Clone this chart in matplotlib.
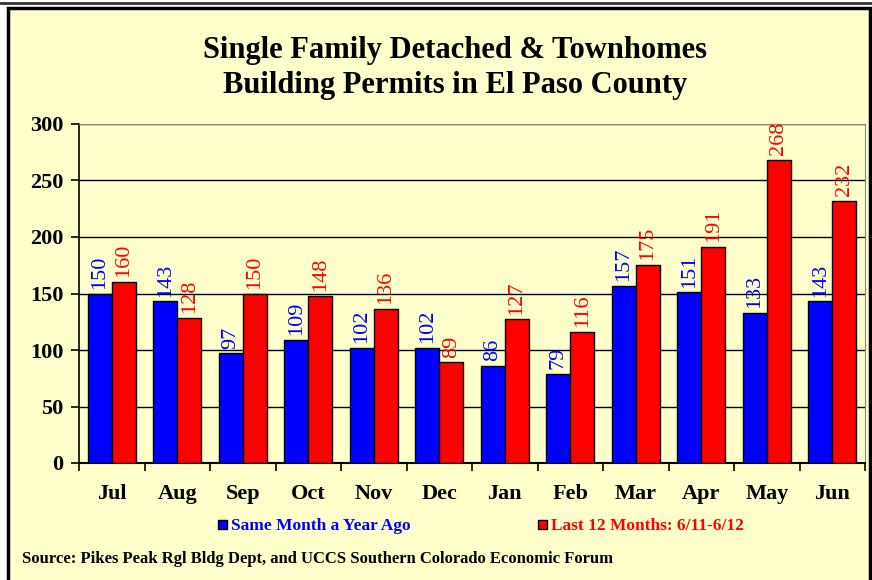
import numpy as np
import matplotlib
matplotlib.use('Agg')
import matplotlib.pyplot as plt
from matplotlib.patches import Rectangle
from matplotlib.lines import Line2D

months = ['Jul', 'Aug', 'Sep', 'Oct', 'Nov', 'Dec', 'Jan', 'Feb', 'Mar', 'Apr', 'May', 'Jun']
year_ago = [150, 143, 97, 109, 102, 102, 86, 79, 157, 151, 133, 143]
last_12 = [160, 128, 150, 148, 136, 89, 127, 116, 175, 191, 268, 232]
yticks = [0, 50, 100, 150, 200, 250, 300]

BG = '#FFFFCC'
plt.rcParams['font.family'] = 'Liberation Serif'

fig = plt.figure(figsize=(8.72, 5.8), dpi=100)
fig.patch.set_facecolor('white')

# outer frame
fig.add_artist(Rectangle((8 / 872, -0.01), 862 / 872, 1 - 8 / 580 + 0.01, transform=fig.transFigure,
                         facecolor=BG, edgecolor='black', lw=2.5, zorder=0))
fig.add_artist(Line2D([0, 1], [1 - 3 / 580, 1 - 3 / 580], transform=fig.transFigure,
                      color='#333333', lw=2))

ax = fig.add_axes([79 / 872, 1 - 463 / 580, 786 / 872, 339 / 580])
ax.set_facecolor(BG)

x = np.arange(len(months))
w = 0.37
ax.bar(x - w / 2, year_ago, w, color='#0000FF', edgecolor='black', lw=1, zorder=3)
ax.bar(x + w / 2, last_12, w, color='#FF0000', edgecolor='black', lw=1, zorder=3)

for xi, v in zip(x, year_ago):
    ax.annotate(str(v), (xi - w / 2, v), xytext=(0, 3.5), textcoords='offset points',
                rotation=90, ha='center', va='bottom', color='#0000FF', fontsize=16)
for xi, v in zip(x, last_12):
    ax.annotate(str(v), (xi + w / 2, v), xytext=(0, 3.5), textcoords='offset points',
                rotation=90, ha='center', va='bottom', color='#FF0000', fontsize=16,
                annotation_clip=False)

ax.set_xlim(-0.5, len(months) - 0.5)
ax.set_ylim(0, 300)
ax.set_yticks(yticks)
ax.set_yticklabels([str(t) for t in yticks], fontsize=16, fontweight='bold')
ax.yaxis.grid(True, color='black', lw=1)
ax.set_axisbelow(True)

ax.set_xticks(x)
ax.set_xticklabels(months, fontsize=16, fontweight='bold')
ax.tick_params(axis='x', length=0, pad=15)
ax.set_xticks(np.arange(-0.5, len(months)), minor=True)
ax.tick_params(axis='x', which='minor', length=6, width=1.2, direction='out')
ax.tick_params(axis='y', length=6, width=1.2, direction='out', pad=5)

ax.spines['left'].set_linewidth(1.2)
ax.spines['bottom'].set_linewidth(1.5)
ax.spines['top'].set_color('#888888')
ax.spines['right'].set_color('#888888')

fig.text(455 / 872, 1 - 68 / 580, 'Single Family Detached & Townhomes\nBuilding Permits in El Paso County',
         ha='center', va='center', fontsize=22, fontweight='bold', linespacing=1.25)

# legend
fig.add_artist(Rectangle((218 / 872, 1 - 529 / 580), 9 / 872, 9 / 580, transform=fig.transFigure,
                         facecolor='#0000FF', edgecolor='black', lw=1))
fig.text(231 / 872, 1 - 526 / 580, 'Same Month a Year Ago', color='#0000FF',
         fontsize=12.5, fontweight='bold', va='center', ha='left')
fig.add_artist(Rectangle((538 / 872, 1 - 529 / 580), 9 / 872, 9 / 580, transform=fig.transFigure,
                         facecolor='#FF0000', edgecolor='black', lw=1))
fig.text(551 / 872, 1 - 526 / 580, 'Last 12 Months: 6/11-6/12', color='#FF0000',
         fontsize=12.5, fontweight='bold', va='center', ha='left')

fig.text(22 / 872, 1 - 559 / 580, 'Source: Pikes Peak Rgl Bldg Dept, and UCCS Southern Colorado Economic Forum',
         fontsize=12, fontweight='bold', va='center', ha='left')

fig.savefig('out.png', dpi=100, facecolor=fig.get_facecolor())
